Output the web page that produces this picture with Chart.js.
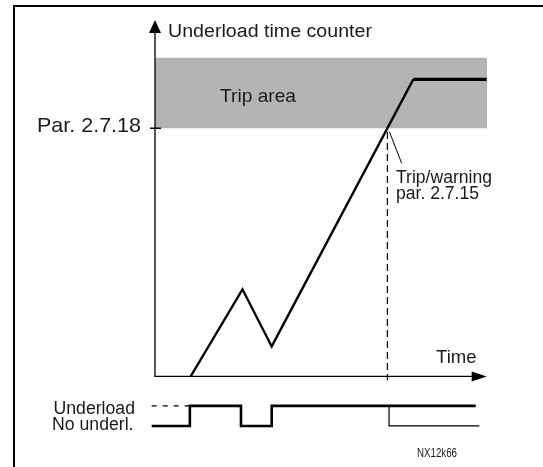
<!DOCTYPE html>
<html>
<head>
<meta charset="utf-8">
<script src="https://cdn.jsdelivr.net/npm/chart.js@4"></script>
<style>
  html, body { margin: 0; padding: 0; background: #fff; }
  #wrap { position: relative; width: 543px; height: 467px; }
</style>
</head>
<body>
<div id="wrap"><canvas id="underloadChart" width="543" height="467"></canvas></div>
<script>
// Underload time counter (x = time, y = counter level, 100 = Par. 2.7.18)
const counterX = [10.75, 26.35, 35.15, 77.8, 99.9];
const counterY = [0, 35.1, 12.1, 119.7, 119.7];

// Trip area band (above Par. 2.7.18)
const tripX = [0, 100.3];
const tripTop = 128.4;
const tripLimit = 100;

// Trip/warning moment
const tripTimeX = 70.0;
const calloutX = [70.6, 74.3];
const calloutY = [98.6, 85.9];

// Underload signal, 1 = underload, 0 = no underload
const signalX = [-1.0, 10.5, 10.5, 25.9, 25.9, 35.15, 35.15, 96.6];
const signalState = [0, 0, 1, 1, 0, 0, 1, 1];
const signalDashX = [-1.0, 10.5];
const signalTailX = [70.5, 70.5, 97.7];
const signalTailState = [1, 0, 0];

// axis extents
const xAxisEnd = 99.9;
const yAxisTop = 143.6;

const pts = (xs, ys) => xs.map((x, i) => ({ x: x, y: ys[i] }));
const FONT = '"Liberation Sans", Arial, Helvetica, sans-serif';

// text drawn to a given width (the original lettering runs a bit wide)
function fitText(ctx, text, x, y, size, width, align) {
  ctx.save();
  ctx.font = size + 'px ' + FONT;
  const w = ctx.measureText(text).width;
  const sx = width / w;
  const left = align === 'right' ? x - width : x;
  ctx.translate(left, y);
  ctx.scale(sx, 1);
  ctx.textAlign = 'left';
  ctx.textBaseline = 'alphabetic';
  ctx.fillText(text, 0, 0);
  ctx.restore();
}

const diagramPlugin = {
  id: 'diagram',
  beforeDatasetsDraw(chart) {
    const ctx = chart.ctx;
    ctx.save();
    // frame
    ctx.strokeStyle = '#000';
    ctx.lineWidth = 2;
    ctx.beginPath();
    ctx.moveTo(14, 467);
    ctx.lineTo(14, 6);
    ctx.lineTo(543, 6);
    ctx.stroke();
    ctx.restore();
  },
  afterDatasetsDraw(chart) {
    const ctx = chart.ctx;
    const xs = chart.scales.x, ys = chart.scales.y;
    const x0 = xs.getPixelForValue(0), y0 = ys.getPixelForValue(0);
    const xEnd = xs.getPixelForValue(xAxisEnd), yTop = ys.getPixelForValue(yAxisTop);
    const yLim = ys.getPixelForValue(tripLimit);
    ctx.save();
    ctx.strokeStyle = '#000';
    ctx.fillStyle = '#000';
    ctx.lineWidth = 1.3;
    // axes
    ctx.beginPath();
    ctx.moveTo(x0, yTop + 10);
    ctx.lineTo(x0, y0);
    ctx.lineTo(xEnd - 12, y0);
    ctx.moveTo(x0 - 5, yLim);
    ctx.lineTo(x0 + 6, yLim);
    ctx.stroke();
    // arrow heads
    ctx.beginPath();
    ctx.moveTo(x0, yTop);
    ctx.lineTo(x0 - 6, yTop + 13);
    ctx.lineTo(x0 + 6, yTop + 13);
    ctx.closePath();
    ctx.fill();
    ctx.beginPath();
    ctx.moveTo(xEnd, y0);
    ctx.lineTo(xEnd - 15, y0 - 5);
    ctx.lineTo(xEnd - 15, y0 + 5);
    ctx.closePath();
    ctx.fill();

    // labels
    ctx.fillStyle = '#1a1a1a';
    fitText(ctx, 'Underload time counter', x0 + 13, 36.7, 18, 204);
    fitText(ctx, 'Trip area', 220, 102.3, 19, 76);
    fitText(ctx, 'Par. 2.7.18', x0 - 14, 131.7, 21, 104, 'right');
    fitText(ctx, 'Trip/warning', 396, 183.3, 17.5, 96);
    fitText(ctx, 'par. 2.7.15', 396, 199.3, 17.5, 83);
    fitText(ctx, 'Time', 436, 362.7, 18, 40.5);
    fitText(ctx, 'Underload', 135, 414, 18, 81.5, 'right');
    fitText(ctx, 'No underl.', 133.5, 430, 18, 81.5, 'right');
    fitText(ctx, 'NX12k66', 417, 456.7, 12, 40);
    ctx.restore();
  }
};

const ctx = document.getElementById('underloadChart').getContext('2d');
const underloadChart = new Chart(ctx, {
  type: 'line',
  data: {
    datasets: [
      {
        // trip area band
        data: pts(tripX, [tripTop, tripTop]),
        borderWidth: 0,
        pointRadius: 0,
        backgroundColor: '#b4b4b4',
        fill: { value: tripLimit },
        clip: false,
        order: 5
      },
      {
        // counter
        data: pts(counterX, counterY),
        borderColor: '#000',
        borderWidth: 2.3,
        segment: {
          // counter held at max after trip is drawn heavier
          borderWidth: c => c.p0DataIndex === counterX.length - 2 ? 3.2 : 2.3
        },
        pointRadius: 0,
        fill: false,
        clip: false,
        borderJoinStyle: 'miter'
      },
      {
        // dashed trip moment line
        data: pts([tripTimeX, tripTimeX], [98.5, -1.5]),
        borderColor: '#000',
        borderWidth: 1.2,
        borderDash: [7, 4],
        pointRadius: 0,
        fill: false,
        clip: false
      },
      {
        // callout leader
        data: pts(calloutX, calloutY),
        borderColor: '#000',
        borderWidth: 1,
        pointRadius: 0,
        fill: false,
        clip: false
      },
      {
        // underload signal
        data: pts(signalX, signalState),
        yAxisID: 'sig',
        borderColor: '#000',
        borderWidth: 2.6,
        pointRadius: 0,
        fill: false,
        clip: false,
        borderJoinStyle: 'miter'
      },
      {
        // dashed level before start
        data: pts(signalDashX, [1, 1]),
        yAxisID: 'sig',
        borderColor: '#000',
        borderWidth: 1.3,
        borderDash: [5, 6],
        pointRadius: 0,
        fill: false,
        clip: false
      },
      {
        // tail after trip
        data: pts(signalTailX, signalTailState),
        yAxisID: 'sig',
        borderColor: '#000',
        borderWidth: 1.2,
        pointRadius: 0,
        fill: false,
        clip: false
      }
    ]
  },
  options: {
    responsive: false,
    animation: false,
    layout: { padding: { left: 155, right: 56, top: 29, bottom: 31 } },
    plugins: { legend: { display: false }, tooltip: { enabled: false } },
    elements: { line: { tension: 0 } },
    scales: {
      x: { type: 'linear', min: 0, max: 100, display: false },
      y: { type: 'linear', min: -24, max: 140, display: false },
      sig: { type: 'linear', min: -0.5, max: 19.75, display: false }
    }
  },
  plugins: [diagramPlugin]
});
</script>
</body>
</html>
